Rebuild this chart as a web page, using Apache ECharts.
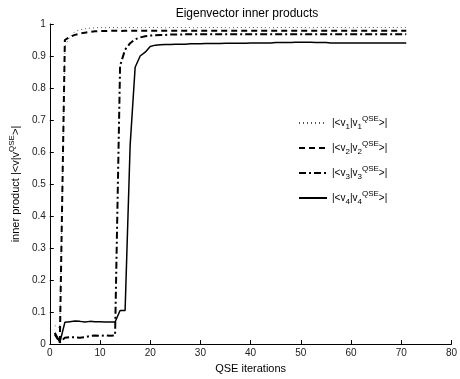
<!DOCTYPE html>
<html>
<head>
  <meta charset="UTF-8" />
  <title>Eigenvector inner products</title>
  <script src="https://cdn.jsdelivr.net/npm/echarts@6/dist/echarts.min.js"></script>
  <style>
    body { margin: 0; padding: 0; background: #fff; }
    #main { width: 460px; height: 379px; }
  </style>
</head>
<body>
  <div id="main"></div>
  <script>
    // QSE iteration numbers 1..71
    const iterations = [
      1, 2, 3, 4, 5, 6, 7, 8, 9, 10, 11, 12, 13, 14, 15, 16, 17, 18, 19, 20,
      21, 22, 23, 24, 25, 26, 27, 28, 29, 30, 31, 32, 33, 34, 35, 36, 37, 38, 39, 40,
      41, 42, 43, 44, 45, 46, 47, 48, 49, 50, 51, 52, 53, 54, 55, 56, 57, 58, 59, 60,
      61, 62, 63, 64, 65, 66, 67, 68, 69, 70, 71
    ];

    const v1 = [
      0.058, 0.05, 0.93, 0.96, 0.976, 0.982, 0.985, 0.987, 0.988, 0.989,
      0.988, 0.989, 0.989, 0.988, 0.989, 0.989, 0.989, 0.988, 0.989, 0.989,
      0.989, 0.989, 0.988, 0.989, 0.989, 0.989, 0.989, 0.989, 0.988, 0.989,
      0.989, 0.989, 0.989, 0.989, 0.989, 0.988, 0.989, 0.989, 0.989, 0.989,
      0.989, 0.989, 0.989, 0.988, 0.989, 0.989, 0.989, 0.989, 0.989, 0.989,
      0.989, 0.988, 0.989, 0.989, 0.989, 0.989, 0.989, 0.989, 0.989, 0.988,
      0.989, 0.989, 0.989, 0.989, 0.989, 0.989, 0.989, 0.989, 0.989, 0.989, 0.989
    ];

    const v2 = [
      0.03, 0.005, 0.95, 0.96, 0.966, 0.97, 0.973, 0.975, 0.977, 0.978,
      0.978, 0.979, 0.979, 0.978, 0.979, 0.979, 0.979, 0.979, 0.979, 0.979,
      0.979, 0.979, 0.979, 0.979, 0.979, 0.979, 0.979, 0.979, 0.979, 0.979,
      0.979, 0.979, 0.979, 0.979, 0.979, 0.979, 0.979, 0.979, 0.979, 0.979,
      0.979, 0.979, 0.979, 0.979, 0.979, 0.979, 0.979, 0.979, 0.979, 0.979,
      0.979, 0.979, 0.979, 0.979, 0.979, 0.979, 0.979, 0.979, 0.979, 0.979,
      0.979, 0.979, 0.979, 0.979, 0.979, 0.979, 0.979, 0.979, 0.979, 0.979, 0.979
    ];

    const v3 = [
      0.035, 0.005, 0.02, 0.022, 0.021, 0.02, 0.022, 0.025, 0.027, 0.026,
      0.027, 0.026, 0.027, 0.87, 0.92, 0.94, 0.952, 0.958, 0.962, 0.964,
      0.965, 0.966, 0.966, 0.967, 0.967, 0.967, 0.968, 0.968, 0.968, 0.968,
      0.968, 0.968, 0.968, 0.968, 0.968, 0.968, 0.968, 0.968, 0.968, 0.968,
      0.968, 0.968, 0.968, 0.968, 0.968, 0.968, 0.968, 0.968, 0.968, 0.968,
      0.968, 0.968, 0.968, 0.968, 0.968, 0.968, 0.968, 0.968, 0.968, 0.968,
      0.968, 0.968, 0.968, 0.968, 0.968, 0.968, 0.968, 0.968, 0.968, 0.968, 0.968
    ];

    const v4 = [
      0.035, 0.005, 0.068, 0.07, 0.072, 0.071, 0.069, 0.071, 0.07, 0.07,
      0.069, 0.069, 0.069, 0.105, 0.105, 0.62, 0.865, 0.9, 0.912, 0.93,
      0.934, 0.935, 0.936, 0.936, 0.937, 0.937, 0.937, 0.938, 0.938, 0.938,
      0.939, 0.939, 0.939, 0.939, 0.94, 0.94, 0.94, 0.94, 0.94, 0.941,
      0.941, 0.941, 0.941, 0.941, 0.942, 0.942, 0.942, 0.942, 0.943, 0.943,
      0.943, 0.943, 0.942, 0.942, 0.942, 0.941, 0.941, 0.941, 0.941, 0.941,
      0.941, 0.941, 0.941, 0.941, 0.941, 0.941, 0.941, 0.941, 0.941, 0.941, 0.941
    ];

    const seriesNames = ['1', '2', '3', '4'];
    const seriesValues = [v1, v2, v3, v4];
    const lineTypes = [
      { type: [1, 3], width: 1, color: '#555' },
      { type: [6, 4], width: 2, color: '#000' },
      { type: [7, 3, 2, 3], width: 2, color: '#000' },
      { type: 'solid', width: 1.5, color: '#000' }
    ];

    const chart = echarts.init(document.getElementById('main'));
    const font = 'Liberation Sans, Arial, sans-serif';

    chart.setOption({
      animation: false,
      backgroundColor: '#fff',
      title: {
        text: 'Eigenvector inner products',
        left: 242,
        textAlign: 'center',
        top: 3,
        textStyle: { fontFamily: font, fontSize: 12, fontWeight: 'normal', color: '#000' }
      },
      grid: { left: 34, right: 8, top: 24, bottom: 27 },
      legend: {
        show: true,
        orient: 'vertical',
        left: 293,
        top: 110,
        itemWidth: 28,
        itemHeight: 10,
        itemGap: 9,
        data: seriesNames,
        itemStyle: { opacity: 0 },
        formatter: function (n) {
          return '|<v{sb|' + n + '}|v{sb|' + n + '}{sp|QSE}>|';
        },
        textStyle: {
          fontFamily: font, fontSize: 10, color: '#000',
          rich: {
            sb: { fontFamily: font, fontSize: 8, padding: [8, 0, 0, 0] },
            sp: { fontFamily: font, fontSize: 8, padding: [0, 0, 8, 0] }
          }
        }
      },
      xAxis: {
        type: 'value',
        min: 0, max: 80, interval: 10,
        name: 'QSE iterations',
        nameLocation: 'middle',
        nameGap: 16,
        nameTextStyle: { fontFamily: font, fontSize: 11, color: '#000' },
        axisLine: { lineStyle: { color: '#000', width: 1 } },
        axisTick: { inside: true, length: 4, lineStyle: { color: '#000' } },
        axisLabel: { fontFamily: font, fontSize: 10, color: '#222', margin: 4 },
        splitLine: { show: false }
      },
      yAxis: {
        type: 'value',
        min: 0, max: 1, interval: 0.1,
        name: 'inner product |<v|v{sp|QSE}>|',
        nameLocation: 'middle',
        nameRotate: 90,
        nameGap: 26,
        nameTextStyle: {
          fontFamily: font, fontSize: 11, color: '#000',
          rich: { sp: { fontFamily: font, fontSize: 8, verticalAlign: 'top', padding: [0, 0, 7, 0] } }
        },
        axisLine: { show: true, lineStyle: { color: '#000', width: 1 } },
        axisTick: { show: true, inside: true, length: 4, lineStyle: { color: '#000' } },
        axisLabel: {
          fontFamily: font, fontSize: 10, color: '#222', margin: 4,
          formatter: v => (Math.round(v * 10) / 10).toString()
        },
        splitLine: { show: false }
      },
      series: seriesNames.map((name, i) => ({
        name: name,
        type: 'line',
        symbol: 'none',
        data: iterations.map((x, k) => [x, seriesValues[i][k]]),
        lineStyle: lineTypes[i],
        itemStyle: { color: lineTypes[i].color }
      }))
    });
  </script>
</body>
</html>
